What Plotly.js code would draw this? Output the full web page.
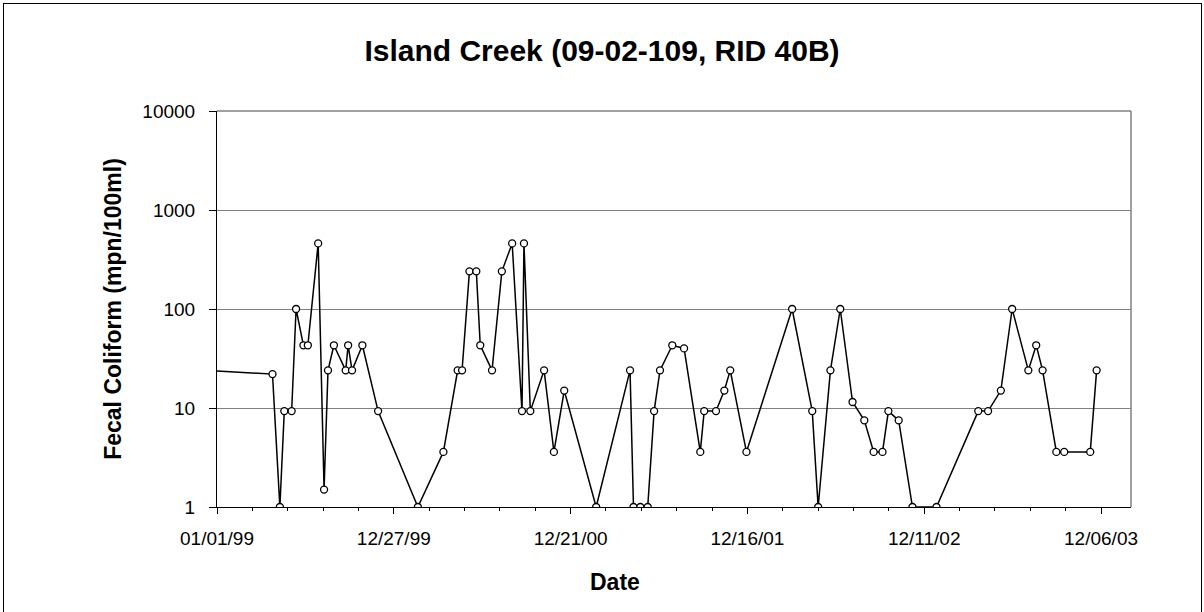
<!DOCTYPE html>
<html>
<head>
<meta charset="utf-8">
<script src="https://cdn.plot.ly/plotly-3.0.1.min.js"></script>
<style>
  html, body { margin: 0; padding: 0; background: #ffffff; }
  #wrap { position: relative; width: 1204px; height: 612px; overflow: hidden; }
  #chart { width: 1204px; height: 612px; }
  #frame { position: absolute; left: 3px; top: 3px; width: 1199px; height: 620px;
           border: 1px solid #000; box-sizing: border-box; pointer-events: none; }
</style>
</head>
<body>
<div id="wrap">
  <div id="chart"></div>
  <div id="frame"></div>
</div>
<script>
// Sample dates (first one lies before the axis start, so the line enters from the left)
const sampleDates = [
  '1998-12-05',
  '1999-04-24','1999-05-09','1999-05-18','1999-06-02','1999-06-11','1999-06-26','1999-07-05',
  '1999-07-26','1999-08-07','1999-08-15','1999-08-27','1999-09-20','1999-09-25','1999-10-03',
  '1999-10-24','1999-11-25',
  '2000-02-14','2000-04-06','2000-05-05','2000-05-14','2000-05-29','2000-06-12','2000-06-20',
  '2000-07-14','2000-08-03','2000-08-24','2000-09-13','2000-09-17','2000-09-30','2000-10-28',
  '2000-11-17','2000-12-08',
  '2001-02-11','2001-04-21','2001-04-28','2001-05-12','2001-05-27','2001-06-09','2001-06-21',
  '2001-07-16','2001-08-09','2001-09-11','2001-09-19','2001-10-13','2001-10-30','2001-11-11',
  '2001-12-14',
  '2002-03-17','2002-04-27','2002-05-09','2002-06-03','2002-06-23','2002-07-18','2002-08-11',
  '2002-08-30','2002-09-17','2002-09-29','2002-10-20','2002-11-17',
  '2003-01-05','2003-03-31','2003-04-20','2003-05-16','2003-06-08','2003-07-11','2003-07-27',
  '2003-08-09','2003-09-06','2003-09-22','2003-11-14','2003-11-27'
];

// Fecal coliform (mpn/100ml)
const fecalColiform = [
  24,
  22, 1, 9.3, 9.3, 100, 43, 43,
  460, 1.5, 24, 43, 24, 43, 24,
  43, 9.3,
  1, 3.6, 24, 24, 240, 240, 43,
  24, 240, 460, 9.3, 460, 9.3, 24,
  3.6, 15,
  1, 24, 1, 1, 1, 9.3, 24,
  43, 40, 3.6, 9.3, 9.3, 15, 24,
  3.6,
  100, 9.3, 1, 24, 100, 11.5, 7.5,
  3.6, 3.6, 9.3, 7.5, 1,
  1, 9.3, 9.3, 15, 100, 24, 43,
  24, 3.6, 3.6, 3.6, 24
];

const yTickVals = [1, 10, 100, 1000, 10000];
const yTickText = ['1', '10', '100', '1000', '10000'];

const FONT = 'Liberation Sans, Arial, Helvetica, sans-serif';

const W = 1204, H = 612;
const M = { l: 217, r: 73, t: 111, b: 105 };
const plotW = W - M.l - M.r, plotH = H - M.t - M.b;

const trace = {
  type: 'scatter',
  mode: 'lines+markers',
  x: sampleDates,
  y: fecalColiform,
  line: { color: '#000000', width: 1.5 },
  marker: { symbol: 'circle', size: 7, color: '#ffffff', line: { color: '#000000', width: 1.3 } },
  cliponaxis: true,
  hoverinfo: 'x+y'
};

const layout = {
  width: W,
  height: H,
  margin: M,
  paper_bgcolor: '#ffffff',
  plot_bgcolor: '#ffffff',
  showlegend: false,
  font: { family: FONT, color: '#000000' },
  title: {
    text: '<b>Island Creek (09-02-109, RID 40B)</b>',
    font: { family: FONT, size: 30, color: '#000000' },
    xref: 'container', x: 0.5, xanchor: 'center',
    yref: 'container', y: 1 - 50 / H, yanchor: 'middle'
  },
  xaxis: {
    type: 'date',
    range: ['1999-01-01', '2004-02-05'],
    tick0: '1999-01-01',
    dtick: 360 * 86400000,
    tickformat: '%m/%d/%y',
    ticks: 'outside', ticklen: 6, tickwidth: 1, tickcolor: '#000000',
    ticklabelstandoff: 8,
    minor: { tick0: '1999-01-01', dtick: 72 * 86400000, ticks: 'outside', ticklen: 3,
             tickwidth: 1, tickcolor: '#000000', showgrid: false },
    showgrid: false, zeroline: false,
    showline: true, linecolor: '#000000', linewidth: 1,
    tickfont: { family: FONT, size: 19, color: '#000000' }
  },
  yaxis: {
    type: 'log',
    range: [0, 4],
    tickvals: yTickVals,
    ticktext: yTickText,
    ticks: 'outside', ticklen: 7, tickwidth: 1, tickcolor: '#000000',
    ticklabelstandoff: 10,
    showgrid: true, gridcolor: '#808080', gridwidth: 1,
    zeroline: false,
    showline: true, linecolor: '#000000', linewidth: 1,
    tickfont: { family: FONT, size: 19, color: '#000000' },
    title: { text: '<b>Fecal Coliform (mpn/100ml)</b>', font: { family: FONT, size: 23, color: '#000000' }, standoff: 14 }
  },
  annotations: [
    { text: '<b>Date</b>', showarrow: false,
      xref: 'paper', x: (615 - M.l) / plotW, xanchor: 'center',
      yref: 'paper', y: -(582 - (H - M.b)) / plotH, yanchor: 'middle',
      font: { family: FONT, size: 23, color: '#000000' } }
  ],
  shapes: [
    { type: 'line', xref: 'paper', yref: 'paper', x0: 0, x1: 1, y0: 1, y1: 1,
      line: { color: '#808080', width: 1.5 } },
    { type: 'line', xref: 'paper', yref: 'paper', x0: 1, x1: 1, y0: 0, y1: 1,
      line: { color: '#808080', width: 1.5 } }
  ]
};

Plotly.newPlot('chart', [trace], layout, { displayModeBar: false, staticPlot: true });
</script>
</body>
</html>
